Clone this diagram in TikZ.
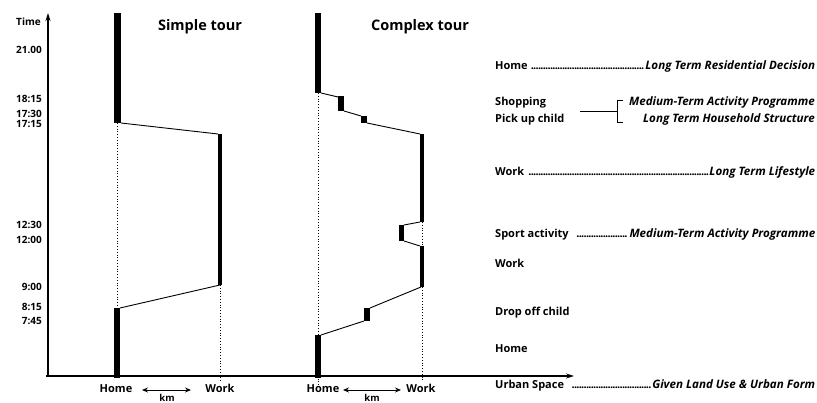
\documentclass[tikz,border=0pt]{standalone}
\usepackage{fontspec}
\setmainfont{Open Sans}
\usetikzlibrary{arrows.meta}

% dense leader dots between a label and its decision level
\newcommand{\leaderdots}{\leaders\hbox to 2.4pt{\hss.\hss}\hfill}
% decision level wording
\newcommand{\declevel}[1]{{\fontsize{11.6}{13}\selectfont\itshape #1}}

\tikzset{
  lab/.style={font=\bfseries\fontsize{11}{13}\selectfont, inner sep=0pt, text height=8pt, text depth=2.5pt},
  tlab/.style={font=\bfseries\fontsize{10}{12}\selectfont, inner sep=0pt, anchor=east},
  ttl/.style={font=\bfseries\fontsize{14.5}{17}\selectfont, inner sep=0pt},
  kmlab/.style={font=\bfseries\fontsize{9.5}{11}\selectfont, inner sep=0pt, anchor=base},
  axis/.style={line width=1.1pt, -{Stealth[length=8pt,width=5pt]}},
  stay/.style={fill=black},
  trip/.style={line width=0.9pt},
  guide/.style={dotted, line width=0.8pt},
  km/.style={line width=0.9pt, {Stealth[length=6pt,width=5pt]}-{Stealth[length=6pt,width=5pt]}}
}

\begin{document}
\begin{tikzpicture}[x=1pt,y=-1pt]
\useasboundingbox (0,0) rectangle (817,403);

% ---------- axes ----------
\coordinate (origin) at (48,376);
\coordinate (ttop) at (48,13);
\coordinate (send) at (574,376);
\draw[axis] (origin) -- (ttop);
\draw[axis] (46,376) -- (send);
\node[font=\bfseries\fontsize{10}{12}\selectfont, inner sep=0pt, anchor=east] (timelab) at (41,22) {Time};

% time marks
\node[tlab] (t2100) at (42,50) {21.00};
\node[tlab] (t1815) at (42,99) {18:15};
\node[tlab] (t1730) at (42,114) {17:30};
\node[tlab] (t1715) at (42,124) {17:15};
\node[tlab] (t1230) at (42,225) {12:30};
\node[tlab] (t1200) at (42,240) {12:00};
\node[tlab] (t0900) at (42,287) {9:00};
\node[tlab] (t0815) at (42,307) {8:15};
\node[tlab] (t0745) at (42,321) {7:45};

% ---------- titles ----------
\node[ttl] (simple) at (200,27) {Simple tour};
\node[ttl] (complex) at (420,27) {Complex tour};

% ---------- simple tour ----------
\coordinate (sh1) at (121,123);
\coordinate (sw1) at (218,134);
\coordinate (sw2) at (220,285);
\coordinate (sh2) at (120,308);
\fill[stay] (114,13) rectangle (121,123);
\fill[stay] (218,134) rectangle (222,285);
\fill[stay] (114,308) rectangle (120,378);
\draw[trip] (sh1) -- (sw1);
\draw[trip] (sw2) -- (sh2);
\draw[guide] (117,123) -- (117,308);
\draw[guide] (220,285) -- (220,381);

% ---------- complex tour ----------
\coordinate (ch1) at (321,93);
\coordinate (cs1a) at (338,97);
\coordinate (cs1b) at (344,111);
\coordinate (cp1a) at (361,116);
\coordinate (cp1b) at (367,123);
\coordinate (cw1a) at (420,134);
\coordinate (cw1b) at (420,222);
\coordinate (csp1) at (404,225);
\coordinate (csp2) at (404,241);
\coordinate (cw2a) at (420,246);
\coordinate (cw2b) at (421,287);
\coordinate (cd1) at (370,308);
\coordinate (cd2) at (364,321);
\coordinate (ch2) at (321,335);
\fill[stay] (315,13) rectangle (321,93);
\fill[stay] (338,96) rectangle (344,111);
\fill[stay] (361,116) rectangle (367,123);
\fill[stay] (420,134) rectangle (424,222);
\fill[stay] (399,225) rectangle (404,241);
\fill[stay] (420,246) rectangle (424,287);
\fill[stay] (364,308) rectangle (370,321);
\fill[stay] (315,335) rectangle (321,378);
\draw[trip] (ch1) -- (cs1a);
\draw[trip] (cs1b) -- (cp1a);
\draw[trip] (cp1b) -- (cw1a);
\draw[trip] (cw1b) -- (csp1);
\draw[trip] (csp2) -- (cw2a);
\draw[trip] (cw2b) -- (cd1);
\draw[trip] (cd2) -- (ch2);
\draw[guide] (318,93) -- (318,385);
\draw[guide] (422,222) -- (422,246);
\draw[guide] (422,287) -- (422,381);

% ---------- space axis labels ----------
\node[lab] (shome) at (116,390) {Home};
\node[lab] (swork) at (220,390) {Work};
\draw[km] (142,390) -- (191,390);
\node[kmlab] (skm) at (167,401.5) {km};
\node[lab] (chome) at (323,390) {Home};
\node[lab] (cwork) at (421,390) {Work};
\draw[km] (343,390) -- (401,390);
\node[kmlab] (ckm) at (372,401.5) {km};

% ---------- activity legend ----------
\node[lab, anchor=west] (lhome) at (495,67)
  {\makebox[320pt][l]{Home\ \leaderdots\declevel{Long Term Residential Decision}}};
\node[lab, anchor=west] (lshop) at (495,103) {Shopping};
\node[lab, anchor=west] (lpick) at (495,120) {Pick up child};
\node[lab, anchor=east] (lmed) at (815,103) {\declevel{Medium-Term Activity Programme}};
\node[lab, anchor=east] (lhh) at (815,120) {\declevel{Long Term Household Structure}};
\coordinate (brtop) at (617,100);
\coordinate (brbot) at (617,122);
\draw[line width=0.8pt] (580,111) -- (617,111);
\draw[line width=0.8pt] ([xshift=6pt]brtop) -- (brtop) -- (brbot) -- ([xshift=6pt]brbot);
\node[lab, anchor=west] (lwork) at (495,173)
  {\makebox[320pt][l]{Work\ \leaderdots\declevel{Long Term Lifestyle}}};
\node[lab, anchor=west] (lsport) at (495,235)
  {\makebox[320pt][l]{Sport activity\hspace{8pt}\leaderdots\declevel{Medium-Term Activity Programme}}};
\node[lab, anchor=west] (lwork2) at (495,265) {Work};
\node[lab, anchor=west] (ldrop) at (495,313) {Drop off child};
\node[lab, anchor=west] (lhome2) at (495,350) {Home};
\node[lab, anchor=west] (lurban) at (495,386)
  {\makebox[320pt][l]{Urban Space\hspace{6pt}\leaderdots\declevel{Given Land Use \& Urban Form}}};
\end{tikzpicture}
\end{document}
